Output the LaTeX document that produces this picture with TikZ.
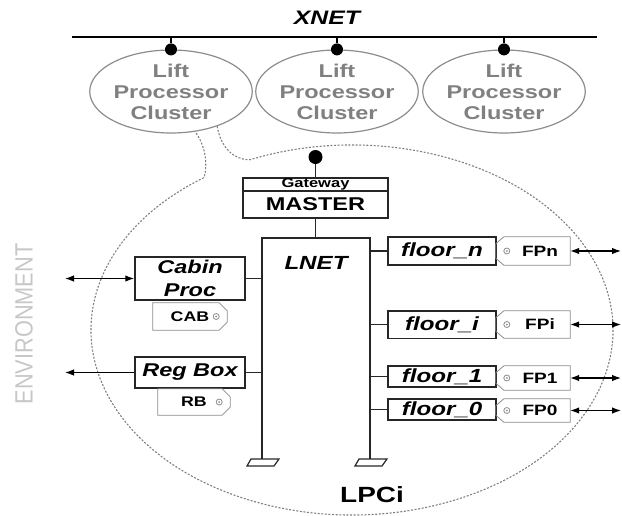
\documentclass[tikz,border=0pt]{standalone}
\usepackage{fontspec}
\setmainfont{Liberation Sans}[FakeStretch=1.27]
\newfontfamily\envfont{Liberation Sans}[FakeStretch=0.87]
\usetikzlibrary{shapes.geometric,arrows.meta}

\tikzset{
  blk/.style={draw=black!85, line width=1.5pt},
  unit/.style={blk, rectangle, inner sep=0pt, font=\fontsize{19}{23}\selectfont\bfseries\itshape},
  cluster/.style={ellipse, draw=black!45, line width=1.2pt, text=black!50, inner sep=0pt,
    minimum width=150pt, minimum height=83pt, align=center, font=\fontsize{18.5}{21}\selectfont\bfseries},
  joint/.style={circle, fill=black, inner sep=0pt, minimum size=12pt},
  plate/.style={rectangle, inner sep=0pt, font=\fontsize{15}{15}\selectfont\bfseries},
  tagline/.style={draw=black!45, line width=0.8pt},
  hull/.style={draw=black!50, line width=1.1pt, dash pattern=on 2pt off 1.6pt},
  io/.style={line width=1.2pt, {Latex[length=9pt,width=6.5pt]}-{Latex[length=9pt,width=6.5pt]}},
  outlink/.style={line width=1.2pt, -{Latex[length=9pt,width=6.5pt]}},
}

\begin{document}
\begin{tikzpicture}[x=1pt, y=-1pt]
  \useasboundingbox (0,0) rectangle (622,515);

  % XNET bus and the lift processor clusters
  \coordinate (xnetL) at (72,37);
  \coordinate (xnetR) at (597,37);
  \draw[line width=1.5pt] (xnetL) -- (xnetR);
  \node[font=\fontsize{19.5}{20}\selectfont\bfseries\itshape] (xnet) at (327,18) {XNET};
  \node[cluster] (lpc1) at (171,91.5) {Lift\\Processor\\Cluster};
  \node[cluster] (lpc2) at (337,91.5) {Lift\\Processor\\Cluster};
  \node[cluster] (lpc3) at (504,91.5) {Lift\\Processor\\Cluster};
  \foreach \c in {lpc1,lpc2,lpc3} {
    \node[joint] (\c-dot) at (\c.north) {};
    \draw[line width=1.5pt] (\c-dot) -- (\c-dot |- xnetL);
  }

  % zoom into one cluster
  \draw[hull] (lpc1.-37) .. controls (221,148) and (234,160) .. (250,159.7)
    arc[start angle=-113, end angle=235.5, x radius=261, y radius=185]
    .. controls (208,163) and (205,145) .. (lpc1.-59);

  % gateway and master
  \node[blk, inner sep=0pt, minimum width=145pt, minimum height=13pt,
    font=\fontsize{13}{13}\selectfont\bfseries] (gateway) at (315.5,184.5) {Gateway};
  \node[blk, inner sep=0pt, minimum width=145pt, minimum height=27pt,
    font=\fontsize{18.5}{18.5}\selectfont\bfseries] (master) at (315.5,204.5) {MASTER};
  \node[joint, minimum size=14pt] (gwdot) at (315.5,157) {};
  \draw[blk] (gwdot) -- (gateway.north);

  % LNET bus with its ground feet
  \coordinate (lnetL) at (262,238);
  \coordinate (lnetR) at (370,238);
  \coordinate (gndL) at (262,459);
  \coordinate (gndR) at (370,459);
  \draw[blk] (gndL) -- (lnetL) -- (lnetR) -- (gndR);
  \draw[blk] (master) -- (master |- lnetL);
  \node[font=\fontsize{19}{19}\selectfont\bfseries\itshape] (lnet) at (316,263) {LNET};
  \foreach \g in {gndL,gndR}
    \draw[blk, line width=1.2pt] ([xshift=-11pt]\g) -- ([xshift=17pt]\g)
      -- ([xshift=12pt,yshift=-7pt]\g) -- ([xshift=-15pt,yshift=-7pt]\g) -- cycle;

  % cabin and registration box
  \node[unit, minimum width=110pt, minimum height=43pt, align=center,
    font=\fontsize{18.5}{23}\selectfont\bfseries\itshape] (cabin) at (190,278.5) {Cabin\\Proc};
  \node[unit, minimum width=110pt, minimum height=31pt,
    font=\fontsize{18.5}{23}\selectfont\bfseries\itshape] (regbox) at (190,372.5) {Reg Box};
  \draw[blk] (cabin.east) -- (cabin.east -| lnetL);
  \draw[blk] (regbox.east) -- (regbox.east -| lnetL);
  \node[plate, minimum width=74pt, minimum height=27pt,
    font=\fontsize{14}{14}\selectfont\bfseries] (cab) at (190,316.5) {CAB\hspace{16pt}};
  \node[plate, minimum width=72pt, minimum height=26pt,
    font=\fontsize{14}{14}\selectfont\bfseries] (rb) at (194,402) {RB\hspace{12pt}};
  \foreach \t in {cab,rb} {
    \draw[tagline] (\t.north west) -- ([xshift=-8pt]\t.north east) -- ([yshift=-8pt]\t.north east)
      -- ([yshift=8pt]\t.south east) -- ([xshift=-8pt]\t.south east) -- (\t.south west) -- cycle;
    \draw[tagline] ([xshift=-11pt]\t.east) circle[radius=3pt];
    \fill[black!45] ([xshift=-11pt]\t.east) circle[radius=1pt];
  }

  % floor units
  \node[unit, minimum width=108pt, minimum height=28pt] (floorn) at (442,251) {floor\_n};
  \node[unit, minimum width=108pt, minimum height=27.5pt] (floori) at (442,324.5) {floor\_i};
  \node[unit, minimum width=108pt, minimum height=21pt] (floor1) at (442,376.5) {floor\_1};
  \node[unit, minimum width=108pt, minimum height=21pt] (floor0) at (442,409.5) {floor\_0};
  \foreach \f in {floorn,floori,floor1,floor0}
    \draw[blk] (\f.west) -- (\f.west -| lnetR);
  \node[plate, minimum width=74pt, minimum height=28pt] (fpn) at (533,251) {\hspace{14pt}FPn};
  \node[plate, minimum width=74pt, minimum height=27pt] (fpi) at (533,324.5) {\hspace{14pt}FPi};
  \node[plate, minimum width=74pt, minimum height=24pt] (fp1) at (533,378) {\hspace{14pt}FP1};
  \node[plate, minimum width=74pt, minimum height=23pt] (fp0) at (533,410.5) {\hspace{14pt}FP0};
  \foreach \t in {fpn,fpi,fp1,fp0} {
    \draw[tagline] ([xshift=8pt]\t.north west) -- (\t.north east) -- (\t.south east)
      -- ([xshift=8pt]\t.south west) -- ([yshift=7pt]\t.south west) -- ([yshift=-7pt]\t.north west) -- cycle;
    \draw[tagline] ([xshift=11pt]\t.west) circle[radius=3pt];
    \fill[black!45] ([xshift=11pt]\t.west) circle[radius=1pt];
  }

  % links to the environment
  \coordinate (envL) at (65,0);
  \coordinate (envR) at (621,0);
  \draw[io] (cabin.west -| envL) -- (cabin.west);
  \draw[outlink] (regbox.west) -- (regbox.west -| envL);
  \foreach \t in {fpn,fpi,fp1,fp0}
    \draw[io] (\t.east) -- (\t.east -| envR);

  \node[font=\envfont\fontsize{25}{25}\selectfont, text=black!22, rotate=90] (env) at (24,324) {ENVIRONMENT};
  \node[font=\fontsize{22}{22}\selectfont\bfseries] (lpci) at (372,495) {LPCi};
\end{tikzpicture}
\end{document}
